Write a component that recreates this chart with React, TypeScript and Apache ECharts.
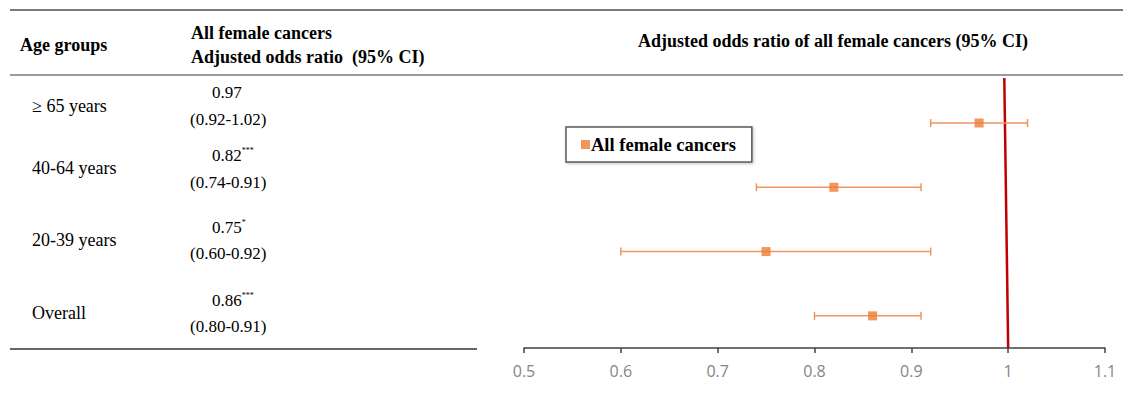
import React, { useEffect, useRef } from "react";
import * as echarts from "echarts";

const categories = ["≥ 65 years", "40-64 years", "20-39 years", "Overall"];
const oddsRatio = [0.97, 0.82, 0.75, 0.86];
const lowerCI = [0.92, 0.74, 0.6, 0.8];
const upperCI = [1.02, 0.91, 0.92, 0.91];
const significance = ["", "***", "*", "***"];
const rowPosition = [3.5, 2.5, 1.5, 0.5];
const xTicks = [0.5, 0.6, 0.7, 0.8, 0.9, 1, 1.1];
const refLine = [
  [1, 0],
  [0.996, 4.2],
];
const seriesName = "All female cancers";

const SERIF = "'Liberation Serif', 'Times New Roman', serif";
const labelY = [106, 168, 240, 313];
const valueY = [92, 155, 227, 300];
const ciY = [119, 182, 253, 326];

export default function App() {
  const ref = useRef<HTMLDivElement>(null);
  useEffect(() => {
    if (!ref.current) return;
    const chart = echarts.init(ref.current, null, { renderer: "svg" });

    const tableTexts: any[] = [];
    categories.forEach((c, i) => {
      tableTexts.push({
        type: "text",
        x: 32,
        y: labelY[i],
        style: { text: c, fontFamily: SERIF, fontSize: 18, fill: "#000", verticalAlign: "middle" },
      });
      tableTexts.push({
        type: "text",
        x: 212,
        y: valueY[i],
        style: {
          text: `{n|${oddsRatio[i].toFixed(2)}}` + (significance[i] ? `{s|${significance[i]}}` : ""),
          fontFamily: SERIF,
          fill: "#000",
          verticalAlign: "middle",
          rich: {
            n: { fontSize: 17, fontFamily: SERIF, fill: "#000" },
            s: { fontSize: 8, fontFamily: SERIF, fill: "#000", verticalAlign: "top" },
          },
        },
      });
      tableTexts.push({
        type: "text",
        x: 190,
        y: ciY[i],
        style: {
          text: `(${lowerCI[i].toFixed(2)}-${upperCI[i].toFixed(2)})`,
          fontFamily: SERIF,
          fontSize: 17,
          fill: "#000",
          verticalAlign: "middle",
        },
      });
    });

    const errorData = oddsRatio.map((_, i) => [lowerCI[i], upperCI[i], rowPosition[i]]);

    chart.setOption({
      animation: false,
      backgroundColor: "#fff",
      grid: { left: 524, right: 18, top: 78, bottom: 48, containLabel: false },
      xAxis: {
        type: "value",
        min: 0.5,
        max: 1.1,
        interval: 0.1,
        axisLine: { show: true, lineStyle: { color: "#404040", width: 1.5 } },
        axisTick: { show: true, length: 5, lineStyle: { color: "#404040", width: 1.5 } },
        splitLine: { show: false },
        axisLabel: {
          color: "#858585",
          fontSize: 16,
          fontFamily: "'Open Sans', 'Noto Sans', sans-serif",
          margin: 15,
          formatter: (v: number) => {
            const r = Math.round(v * 10) / 10;
            return xTicks.includes(r) ? String(r) : "";
          },
        },
      },
      yAxis: { type: "value", min: 0, max: 4.2, show: false },
      legend: {
        data: [seriesName],
        left: 566,
        top: 127,
        orient: "horizontal",
        icon: "rect",
        itemWidth: 9,
        itemHeight: 9,
        padding: [8, 16, 8, 15],
        borderColor: "#5a5a5a",
        borderWidth: 1.5,
        backgroundColor: "#fff",
        shadowColor: "rgba(0,0,0,0.25)",
        shadowBlur: 3,
        shadowOffsetX: 1,
        shadowOffsetY: 1,
        textStyle: { fontFamily: SERIF, fontSize: 18.5, fontWeight: "bold", color: "#000", padding: [0, 0, 0, -4] },
      },
      graphic: [
        { type: "line", shape: { x1: 10, y1: 10, x2: 1123, y2: 10 }, style: { stroke: "#7a7a7a", lineWidth: 2 } },
        { type: "line", shape: { x1: 10, y1: 75, x2: 1123, y2: 75 }, style: { stroke: "#7a7a7a", lineWidth: 1.5 } },
        { type: "line", shape: { x1: 10, y1: 349, x2: 477, y2: 349 }, style: { stroke: "#333", lineWidth: 1.5 } },
        {
          type: "text",
          x: 20,
          y: 45,
          style: { text: "Age groups", fontFamily: SERIF, fontSize: 18, fontWeight: "bold", fill: "#000", verticalAlign: "middle" },
        },
        {
          type: "text",
          x: 191,
          y: 33,
          style: { text: "All female cancers", fontFamily: SERIF, fontSize: 18, fontWeight: "bold", fill: "#000", verticalAlign: "middle" },
        },
        {
          type: "text",
          x: 191,
          y: 57,
          style: {
            text: "Adjusted odds ratio  (95% CI)",
            fontFamily: SERIF,
            fontSize: 18,
            fontWeight: "bold",
            fill: "#000",
            verticalAlign: "middle",
          },
        },
        {
          type: "text",
          x: 833,
          y: 41,
          style: {
            text: "Adjusted odds ratio of all female cancers (95% CI)",
            fontFamily: SERIF,
            fontSize: 18,
            fontWeight: "bold",
            fill: "#000",
            align: "center",
            verticalAlign: "middle",
          },
        },
        ...tableTexts,
      ],
      series: [
        {
          type: "line",
          data: refLine,
          symbol: "none",
          lineStyle: { color: "#C00000", width: 2.5 },
          z: 1,
          silent: true,
        },
        {
          type: "custom",
          data: errorData,
          z: 2,
          renderItem: (params: any, api: any) => {
            const lo = api.coord([api.value(0), api.value(2)]);
            const hi = api.coord([api.value(1), api.value(2)]);
            const cap = 4;
            const st = { stroke: "#F29560", lineWidth: 1.5 };
            return {
              type: "group",
              children: [
                { type: "line", shape: { x1: lo[0], y1: lo[1], x2: hi[0], y2: hi[1] }, style: st },
                { type: "line", shape: { x1: lo[0], y1: lo[1] - cap, x2: lo[0], y2: lo[1] + cap }, style: st },
                { type: "line", shape: { x1: hi[0], y1: hi[1] - cap, x2: hi[0], y2: hi[1] + cap }, style: st },
              ],
            };
          },
        },
        {
          name: seriesName,
          type: "scatter",
          data: oddsRatio.map((v, i) => [v, rowPosition[i]]),
          symbol: "rect",
          symbolSize: 9,
          itemStyle: { color: "#ED7D31" },
          z: 3,
        },
      ],
    });
    return () => chart.dispose();
  }, []);
  return <div ref={ref} style={{ position: "absolute", left: 0, top: 0, width: 1123, height: 396 }} />;
}
